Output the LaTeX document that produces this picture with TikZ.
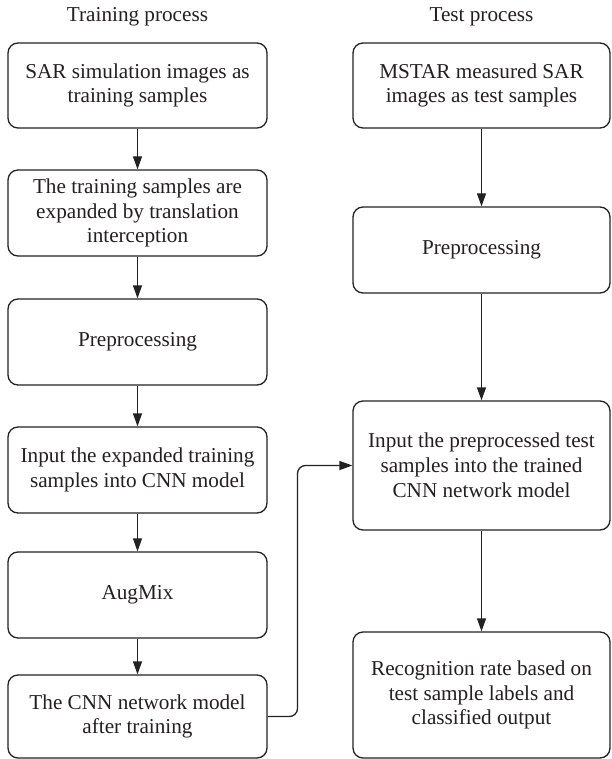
\documentclass[tikz,border=0pt]{standalone}
\usepackage{fontspec}
\setmainfont{Liberation Serif}
\usetikzlibrary{arrows.meta}
\definecolor{linegray}{HTML}{222222}
\definecolor{inkblack}{HTML}{231F20}
\begin{document}
\begin{tikzpicture}[x=1pt,y=-1pt,
  txt/.style={font=\fontsize{21.2}{24.8}\selectfont, text=inkblack},
  box/.style={txt, draw=linegray, line width=1.3pt, rounded corners=10pt,
    minimum width=259pt, align=center, inner sep=0pt},
  rbox/.style={box, minimum width=257pt},
  flow/.style={draw=linegray, line width=1.3pt,
    -{Triangle[length=13pt,width=9pt]}},
  heading/.style={txt}]
\useasboundingbox (0,0) rectangle (611,759);

% column headings
\node[heading] (htrain) at (137.5,16.5) {Training process};
\node[heading] (htest)  at (481.5,16.5) {Test process};

% training column
\node[box, minimum height=85pt] (t1) at (137.5,85.5)
  {SAR simulation images as\\training samples};
\node[box, minimum height=86pt] (t2) at (137.5,213)
  {The training samples are\\expanded by translation\\interception};
\node[box, minimum height=86pt] (t3) at (137.5,342)
  {Preprocessing};
\node[box, minimum height=86pt] (t4) at (137.5,470)
  {Input the expanded training\\samples into CNN model};
\node[box, minimum height=86pt] (t5) at (137.5,595)
  {AugMix};
\node[box, minimum height=83pt] (t6) at (137.5,716.5)
  {The CNN network model\\after training};

% test column
\node[rbox, minimum height=85pt] (s1) at (481.5,85.5)
  {MSTAR measured SAR\\images as test samples};
\node[rbox, minimum height=86pt] (s2) at (481.5,250)
  {Preprocessing};
\node[rbox, minimum height=129pt] (s3) at (481.5,465.5)
  {Input the preprocessed test\\samples into the trained\\CNN network model};
\node[rbox, minimum height=126pt] (s4) at (481.5,695)
  {Recognition rate based on\\test sample labels and\\classified output};

% training flow
\draw[flow] (t1) -- (t2);
\draw[flow] (t2) -- (t3);
\draw[flow] (t3) -- (t4);
\draw[flow] (t4) -- (t5);
\draw[flow] (t5) -- (t6);

% test flow
\draw[flow] (s1) -- (s2);
\draw[flow] (s2) -- (s3);
\draw[flow] (s3) -- (s4);

% trained model feeds the test stage
\coordinate (bendx) at (297.5,0);
\draw[flow, rounded corners=8pt] (t6.east) -- (t6.east -| bendx)
  -- (s3.west -| bendx) -- (s3.west);
\end{tikzpicture}
\end{document}
